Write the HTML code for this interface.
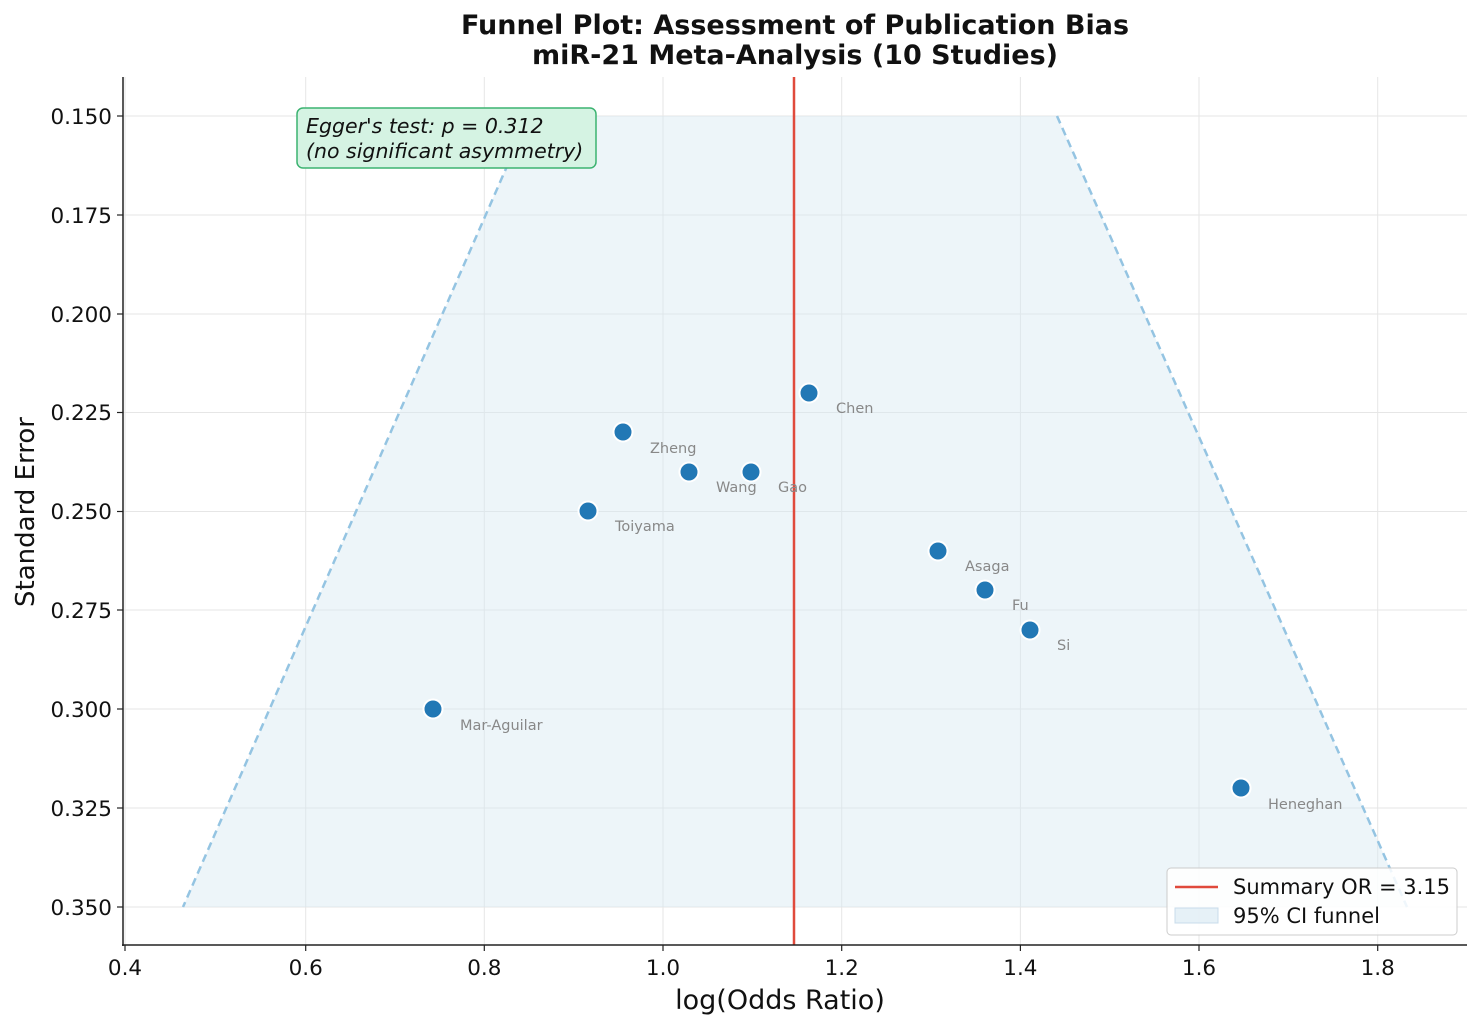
<!DOCTYPE html>
<html><head><meta charset="utf-8"><style>
body{margin:0;background:#fff}
svg{display:block;font-family:"DejaVu Sans","Liberation Sans",sans-serif}
</style></head><body>
<svg width="1482" height="1028" viewBox="0 0 1482 1028">
<rect width="1482" height="1028" fill="#fff"/>
<g stroke="#e6e6e6" stroke-width="1">
<line x1="125" y1="77" x2="125" y2="945"/><line x1="305.7" y1="77" x2="305.7" y2="945"/><line x1="484.3" y1="77" x2="484.3" y2="945"/><line x1="663" y1="77" x2="663" y2="945"/><line x1="841.7" y1="77" x2="841.7" y2="945"/><line x1="1020.4" y1="77" x2="1020.4" y2="945"/><line x1="1199" y1="77" x2="1199" y2="945"/><line x1="1377.7" y1="77" x2="1377.7" y2="945"/>
<line x1="123" y1="116" x2="1467" y2="116"/><line x1="123" y1="215" x2="1467" y2="215"/><line x1="123" y1="314" x2="1467" y2="314"/><line x1="123" y1="412.5" x2="1467" y2="412.5"/><line x1="123" y1="511.5" x2="1467" y2="511.5"/><line x1="123" y1="610" x2="1467" y2="610"/><line x1="123" y1="709" x2="1467" y2="709"/><line x1="123" y1="808" x2="1467" y2="808"/><line x1="123" y1="907" x2="1467" y2="907"/>
</g>
<polygon points="529,116 1057,116 1407,907 183,907" fill="#d6e8f2" fill-opacity="0.45"/>
<g stroke="#94c4e2" stroke-width="2.5" stroke-dasharray="8,5" fill="none">
<line x1="529" y1="116" x2="183" y2="907"/><line x1="1057" y1="116" x2="1407" y2="907"/>
</g>
<line x1="794" y1="77" x2="794" y2="945" stroke="#e04a3c" stroke-width="2.5"/>
<g fill="#2278b5" stroke="#fff" stroke-width="2">
<circle cx="809" cy="393" r="9.5"/><circle cx="623" cy="432" r="9.5"/><circle cx="689" cy="472" r="9.5"/><circle cx="751" cy="472" r="9.5"/><circle cx="588" cy="511" r="9.5"/><circle cx="938" cy="551" r="9.5"/><circle cx="985" cy="590" r="9.5"/><circle cx="1030" cy="630" r="9.5"/><circle cx="433" cy="709" r="9.5"/><circle cx="1241" cy="788" r="9.5"/>
</g>
<g fill="#888" font-size="14.5">
<text x="836" y="413">Chen</text><text x="650" y="453">Zheng</text><text x="716" y="492">Wang</text><text x="778" y="492">Gao</text><text x="615" y="531">Toiyama</text><text x="965" y="571">Asaga</text><text x="1012" y="610">Fu</text><text x="1057" y="650">Si</text><text x="460" y="730">Mar-Aguilar</text><text x="1268" y="809">Heneghan</text>
</g>
<line x1="123" y1="77" x2="123" y2="946" stroke="#222" stroke-width="1.5"/>
<line x1="122" y1="945" x2="1467" y2="945" stroke="#222" stroke-width="1.5"/>
<g stroke="#222" stroke-width="1.2">
<line x1="125" y1="945" x2="125" y2="951"/><line x1="305.7" y1="945" x2="305.7" y2="951"/><line x1="484.3" y1="945" x2="484.3" y2="951"/><line x1="663" y1="945" x2="663" y2="951"/><line x1="841.7" y1="945" x2="841.7" y2="951"/><line x1="1020.4" y1="945" x2="1020.4" y2="951"/><line x1="1199" y1="945" x2="1199" y2="951"/><line x1="1377.7" y1="945" x2="1377.7" y2="951"/>
<line x1="117" y1="116" x2="123" y2="116"/><line x1="117" y1="215" x2="123" y2="215"/><line x1="117" y1="314" x2="123" y2="314"/><line x1="117" y1="412.5" x2="123" y2="412.5"/><line x1="117" y1="511.5" x2="123" y2="511.5"/><line x1="117" y1="610" x2="123" y2="610"/><line x1="117" y1="709" x2="123" y2="709"/><line x1="117" y1="808" x2="123" y2="808"/><line x1="117" y1="907" x2="123" y2="907"/>
</g>
<g font-size="21.5" fill="#111" text-anchor="middle">
<text x="125" y="975">0.4</text><text x="305.7" y="975">0.6</text><text x="484.3" y="975">0.8</text><text x="663" y="975">1.0</text><text x="841.7" y="975">1.2</text><text x="1020.4" y="975">1.4</text><text x="1199" y="975">1.6</text><text x="1377.7" y="975">1.8</text>
</g>
<g font-size="21.5" fill="#111" text-anchor="end">
<text x="112" y="124">0.150</text><text x="112" y="223">0.175</text><text x="112" y="322">0.200</text><text x="112" y="420">0.225</text><text x="112" y="519">0.250</text><text x="112" y="618">0.275</text><text x="112" y="717">0.300</text><text x="112" y="816">0.325</text><text x="112" y="915">0.350</text>
</g>
<text x="780" y="1009" font-size="27" text-anchor="middle" fill="#111">log(Odds Ratio)</text>
<text transform="translate(34,512) rotate(-90)" font-size="26" text-anchor="middle" fill="#111">Standard Error</text>
<g font-size="27" font-weight="bold" text-anchor="middle" fill="#111">
<text x="795" y="34">Funnel Plot: Assessment of Publication Bias</text>
<text x="795" y="64">miR-21 Meta-Analysis (10 Studies)</text>
</g>
<rect x="297" y="108" width="299" height="60" rx="6" fill="#d5f3e3" stroke="#3cb371" stroke-width="1.5"/>
<g font-size="20.5" font-style="italic" fill="#111">
<text x="306" y="133">Egger's test: p = 0.312</text><text x="306" y="158">(no significant asymmetry)</text>
</g>
<rect x="1167" y="868" width="290" height="67" rx="4" fill="#fff" fill-opacity="0.85" stroke="#ccc"/>
<line x1="1175" y1="887" x2="1218" y2="887" stroke="#e04a3c" stroke-width="2.5"/>
<rect x="1175" y="908" width="43" height="15" fill="#d6e8f2" fill-opacity="0.6" stroke="#c8dceb"/>
<g font-size="21" fill="#111"><text x="1233" y="894">Summary OR = 3.15</text><text x="1233" y="923">95% CI funnel</text></g>
</svg>
</body></html>
